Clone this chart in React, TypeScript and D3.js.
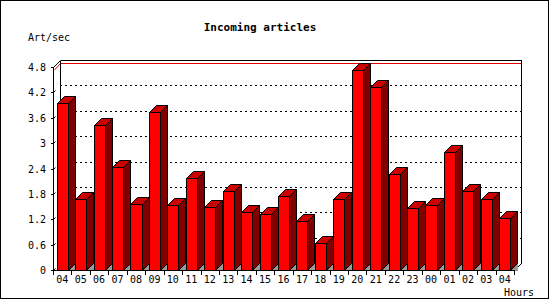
import React from "react";
import * as d3 from "d3";

const hours = ["04","05","06","07","08","09","10","11","12","13","14","15","16","17","18","19","20","21","22","23","00","01","02","03","04"];
const artPerSec = [3.96,1.69,3.44,2.43,1.55,3.73,1.53,2.17,1.50,1.86,1.36,1.32,1.75,1.17,0.63,1.69,4.72,4.32,2.26,1.46,1.53,2.78,1.86,1.67,1.22];
const yTicks = [0,0.6,1.2,1.8,2.4,3,3.6,4.2,4.8];
const yTickLabels = ["0","0.6","1.2","1.8","2.4","3","3.6","4.2","4.8"];

const W = 550, H = 300;
const X0 = 53, X1 = 514, Y0 = 270, Y1 = 67;
const D = 7;
const FONT = "'DejaVu Sans Mono', monospace";

export default function App() {
  const x = d3.scaleBand<number>().domain(d3.range(hours.length)).range([X0, X1]).paddingInner(0).paddingOuter(0);
  const y = d3.scaleLinear().domain([0, 4.8]).range([Y0, Y1]);
  const slot = x.bandwidth();
  const bw = slot * 0.6;
  const poly = (pts: [number, number][]) => pts.map(p => p.join(",")).join(" ");
  const r = (v: number) => Math.round(v) + 0.5;

  return (
    <svg width={W} height={H} style={{ position: "absolute", left: 0, top: 0 }} shapeRendering="crispEdges">
      <rect x={0} y={0} width={W} height={H} fill="#fff" />
      <rect x={0.5} y={0.5} width={548} height={298} fill="none" stroke="#000" />
      <text x={260} y={31} textAnchor="middle" fontFamily={FONT} fontWeight="bold" fontSize={11}>Incoming articles</text>
      <text x={28} y={41} fontFamily={FONT} fontSize={10}>Art/sec</text>
      <text x={534} y={296} textAnchor="end" fontFamily={FONT} fontSize={10}>Hours</text>

      {/* back wall gridlines */}
      {yTicks.slice(1, -1).map((t, i) => (
        <line key={i} x1={X0 + D} x2={X1 + D} y1={r(y(t) - D)} y2={r(y(t) - D)} stroke="#000" strokeDasharray="2,3" />
      ))}
      {/* red top line */}
      <line x1={X0 + D + 1} x2={X1 + D} y1={r(y(4.8) - D + 3)} y2={r(y(4.8) - D + 3)} stroke="#e00000" />
      <line x1={X0 + 1.5} y1={y(4.8) + 3} x2={X0 + D + 1} y2={y(4.8) - D + 3} stroke="#e00000" shapeRendering="auto" />
      {/* back frame */}
      <line x1={r(X0 + D)} x2={r(X1 + D)} y1={r(y(4.8) - D)} y2={r(y(4.8) - D)} stroke="#000" />
      <line x1={r(X0 + D)} x2={r(X0 + D)} y1={r(y(4.8) - D)} y2={r(Y0 - D)} stroke="#000" />
      <line x1={r(X1 + D)} x2={r(X1 + D)} y1={r(y(4.8) - D)} y2={r(Y0 - D)} stroke="#000" />
      <line x1={r(X0)} y1={r(y(4.8))} x2={r(X0 + D)} y2={r(y(4.8) - D)} stroke="#000" shapeRendering="auto" />
      <line x1={r(X1)} y1={r(Y0)} x2={r(X1 + D)} y2={r(Y0 - D)} stroke="#000" shapeRendering="auto" />

      {/* bars */}
      {artPerSec.map((v, i) => {
        const xl = Math.round((x(i) as number) + slot * 0.2) + 0.5;
        const xr = Math.round((x(i) as number) + slot * 0.2 + bw) + 0.5;
        const yt = r(y(v));
        const yb = r(Y0);
        return (
          <g key={i}>
            <polygon points={poly([[xr, yb], [xr + D, yb - D], [xr + D, yb]])} fill="#999" />
            <polygon points={poly([[xl, yt], [xl + D, yt - D], [xr + D, yt - D], [xr, yt]])} fill="#cc0000" stroke="#000" shapeRendering="auto" />
            <polygon points={poly([[xr, yt], [xr + D, yt - D], [xr + D, yb - D], [xr, yb]])} fill="#800000" stroke="#000" shapeRendering="auto" />
            <rect x={xl} y={yt} width={xr - xl} height={yb - yt} fill="#ff0000" stroke="#000" />
          </g>
        );
      })}

      {/* front axes */}
      <line x1={r(X0)} x2={r(X0)} y1={r(y(4.8))} y2={r(Y0)} stroke="#000" />
      <line x1={r(X0)} x2={r(X1)} y1={r(Y0)} y2={r(Y0)} stroke="#000" />
      {yTicks.map((t, i) => (
        <g key={i}>
          <line x1={r(X0) - 3} x2={r(X0)} y1={r(y(t))} y2={r(y(t))} stroke="#000" />
          <line x1={r(X0)} x2={r(X0) + 2} y1={r(y(t))} y2={r(y(t)) - 2} stroke="#000" shapeRendering="auto" />
          <text x={46} y={y(t) + 4} textAnchor="end" fontFamily={FONT} fontSize={10}>{yTickLabels[i]}</text>
        </g>
      ))}
      {hours.map((h, i) => (
        <g key={i}>
          <line x1={r(x(i) as number)} x2={r(x(i) as number)} y1={r(Y0)} y2={r(Y0) + 4} stroke="#000" />
          <text x={(x(i) as number) + slot / 2} y={283} textAnchor="middle" fontFamily={FONT} fontSize={10}>{h}</text>
        </g>
      ))}
      <line x1={r(X1)} x2={r(X1)} y1={r(Y0)} y2={r(Y0) + 4} stroke="#000" />
    </svg>
  );
}
